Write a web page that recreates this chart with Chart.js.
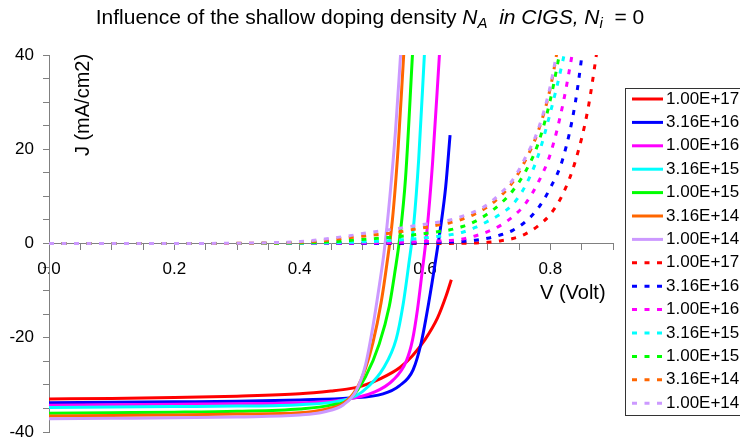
<!DOCTYPE html>
<html>
<head>
<meta charset="utf-8">
<script src="https://cdn.jsdelivr.net/npm/chart.js@4.4.0/dist/chart.umd.min.js"></script>
<style>
  html, body { margin: 0; padding: 0; background: #fff; }
</style>
</head>
<body>
<canvas id="myChart" width="740" height="439"></canvas>
<script>
var seriesNames = ["1.00E+17", "3.16E+16", "1.00E+16", "3.16E+15", "1.00E+15", "3.16E+14", "1.00E+14"];
var seriesColors = ['#FF0000', '#0000FF', '#FF00FF', '#00FFFF', '#00FF00', '#FF6600', '#CC99FF'];

// illuminated J-V curves (solid), V in volt, J in mA/cm2
var vLight17 = [0, 0.1, 0.2, 0.3, 0.4, 0.45, 0.48, 0.5, 0.53, 0.56, 0.58, 0.6, 0.62, 0.634, 0.642];
var jLight17 = [-33.0, -32.9, -32.7, -32.4, -31.9, -31.3, -30.8, -30.2, -28.6, -26.3, -23.8, -20.4, -15.8, -11.0, -7.7];
var vLight316e16 = [0, 0.1, 0.2, 0.3, 0.4, 0.48, 0.533, 0.559, 0.581, 0.594, 0.606, 0.617, 0.626, 0.633, 0.640];
var jLight316e16 = [-33.8, -33.7, -33.6, -33.5, -33.2, -32.8, -31.9, -30.2, -26.8, -21.0, -12.5, -3.5, 4.5, 12, 23];
var vLight16 = [0, 0.1, 0.2, 0.3, 0.4, 0.47, 0.52, 0.549, 0.570, 0.580, 0.588, 0.595, 0.603, 0.612, 0.623];
var jLight16 = [-34.3, -34.2, -34.1, -34.0, -33.8, -33.2, -31.5, -29.0, -25.0, -20.5, -14.0, -6.5, 2.5, 17, 40];
var vLight316e15 = [0, 0.1, 0.2, 0.3, 0.4, 0.46, 0.49, 0.51, 0.533, 0.554, 0.565, 0.574, 0.582, 0.590, 0.599];
var jLight316e15 = [-34.8, -34.7, -34.6, -34.5, -34.2, -33.5, -32.3, -30.3, -26.6, -20.3, -13.0, -4.5, 4, 18, 40];
var vLight15 = [0, 0.1, 0.2, 0.3, 0.4, 0.45, 0.48, 0.505, 0.527, 0.543, 0.552, 0.560, 0.569, 0.580];
var jLight15 = [-36.0, -35.9, -35.8, -35.6, -35.1, -34.3, -33.0, -28.3, -21.3, -13.3, -6.0, 1.5, 14, 40];
var vLight316e14 = [0, 0.1, 0.2, 0.3, 0.4, 0.44, 0.47, 0.49, 0.505, 0.517, 0.530, 0.539, 0.548, 0.557, 0.566];
var jLight316e14 = [-36.6, -36.5, -36.4, -36.2, -35.9, -35.2, -33.9, -31.0, -26.5, -21.0, -12.5, -4.5, 5, 20, 40];
var vLight14 = [0, 0.1, 0.2, 0.3, 0.4, 0.44, 0.47, 0.49, 0.505, 0.517, 0.527, 0.535, 0.544, 0.553, 0.561];
var jLight14 = [-37.2, -37.1, -37.0, -36.8, -36.4, -35.7, -34.2, -31.3, -25.8, -17.5, -9.0, -1.5, 10, 24, 40];

// dark J-V curves (dashed), shared voltage grid
var vDark = [0, 0.1, 0.2, 0.3, 0.32, 0.34, 0.36, 0.38, 0.40, 0.42, 0.44, 0.46, 0.48, 0.50, 0.52, 0.54, 0.56,
             0.58, 0.60, 0.62, 0.64, 0.66, 0.68, 0.70, 0.72, 0.74, 0.76, 0.78, 0.80, 0.82, 0.84, 0.86, 0.88];
var jDark17 = [0, 0, 0, 0, 0, 0, 0, 0, 0, 0, 0, 0, 0, 0, 0, 0, 0, 0, 0, 0,
               0.02, 0.06, 0.12, 0.25, 0.55, 1.05, 2.0, 3.7, 6.2, 10.5, 17.5, 28.5, 46];
var jDark316e16 = [0, 0, 0, 0, 0, 0, 0, 0, 0, 0, 0, 0, 0, 0.01, 0.02, 0.03, 0.05, 0.08, 0.12, 0.2,
                   0.3, 0.45, 0.7, 1.1, 1.8, 2.8, 4.6, 7.4, 11.8, 18.0, 30.0, 50];
var jDark16 = [0, 0, 0, 0, 0, 0, 0.01, 0.01, 0.02, 0.03, 0.04, 0.05, 0.07, 0.1, 0.13, 0.18, 0.24, 0.32, 0.42, 0.52,
               0.64, 0.95, 1.6, 2.5, 3.8, 5.7, 8.4, 12.8, 19.0, 29.5, 44];
var jDark316e15 = [0, 0, 0, 0, 0.01, 0.01, 0.02, 0.03, 0.05, 0.08, 0.12, 0.18, 0.25, 0.35, 0.45, 0.57, 0.75, 0.95, 1.2, 1.5,
                   1.85, 2.4, 3.4, 4.7, 6.2, 8.3, 12.2, 18.4, 27.8, 38.8, 52];
var jDark15 = [0, 0, 0, 0.01, 0.02, 0.03, 0.05, 0.08, 0.12, 0.2, 0.3, 0.45, 0.65, 0.85, 1.05, 1.25, 1.5, 1.8, 2.1, 2.5,
               2.9, 3.6, 4.7, 6.3, 8.4, 11.2, 15.2, 21.0, 30.5, 44];
var jDark316e14 = [0, 0, 0.01, 0.03, 0.05, 0.08, 0.12, 0.18, 0.27, 0.42, 0.65, 0.95, 1.25, 1.55, 1.85, 2.1, 2.5, 2.95, 3.4, 3.9,
                   4.4, 5.2, 6.3, 7.8, 10.0, 13.0, 17.6, 23.6, 33.0, 48];
var jDark14 = [0, 0, 0.01, 0.05, 0.08, 0.13, 0.2, 0.28, 0.42, 0.62, 0.95, 1.3, 1.65, 2.1, 2.5, 2.85, 3.25, 3.7, 4.1, 4.5,
               5.0, 5.8, 6.8, 8.3, 10.6, 13.5, 18.2, 24.0, 33.5, 48];

var lightV = [vLight17, vLight316e16, vLight16, vLight316e15, vLight15, vLight316e14, vLight14];
var lightJ = [jLight17, jLight316e16, jLight16, jLight316e15, jLight15, jLight316e14, jLight14];
var darkJ = [jDark17, jDark316e16, jDark16, jDark316e15, jDark15, jDark316e14, jDark14];

function toPoints(xs, ys) {
    return ys.map(function (y, i) { return {x: xs[i], y: y}; });
}

var datasets = [];
for (var i = 0; i < 7; i++) {
    datasets.push({
        label: seriesNames[i],
        data: toPoints(lightV[i], lightJ[i]),
        borderColor: seriesColors[i],
        borderWidth: 3,
        borderDash: []
    });
}
for (var i = 0; i < 7; i++) {
    datasets.push({
        label: seriesNames[i],
        data: toPoints(vDark, darkJ[i]),
        borderColor: seriesColors[i],
        borderWidth: 3,
        borderDash: [5, 7.5]
    });
}
// later series on top, like the spreadsheet
datasets.forEach(function (d, i) { d.order = datasets.length - i; });

var FONT = '"Liberation Sans", Arial, sans-serif';

var textPlugin = {
    id: 'texts',
    afterDraw: function (chart) {
        var ctx = chart.ctx;
        ctx.save();
        ctx.fillStyle = '#000';
        ctx.textBaseline = 'alphabetic';

        // title with italics and subscripts
        var size = 21;
        var parts = [
            {t: 'Influence of the shallow doping density ', it: false, sub: false},
            {t: 'N', it: true, sub: false},
            {t: 'A', it: true, sub: true},
            {t: '  in CIGS, ', it: true, sub: false},
            {t: 'N', it: true, sub: false},
            {t: 'i', it: true, sub: true},
            {t: '  = 0', it: false, sub: false}
        ];
        function partFont(p) {
            return (p.it ? 'italic ' : '') + (p.sub ? Math.round(size * 0.72) : size) + 'px ' + FONT;
        }
        var total = 0;
        parts.forEach(function (p) { ctx.font = partFont(p); p.w = ctx.measureText(p.t).width; total += p.w; });
        var x = 370 - total / 2;
        parts.forEach(function (p) {
            ctx.font = partFont(p);
            ctx.fillText(p.t, x, 24 + (p.sub ? 4 : 0));
            x += p.w;
        });

        // axis titles inside the plot
        ctx.font = '20px ' + FONT;
        ctx.save();
        ctx.translate(89, 105);
        ctx.rotate(-Math.PI / 2);
        ctx.textAlign = 'center';
        ctx.textBaseline = 'alphabetic';
        ctx.fillText('J (mA/cm2)', 0, 0);
        ctx.restore();
        ctx.textAlign = 'left';
        ctx.textBaseline = 'middle';
        ctx.fillText('V (Volt)', 540, 293);

        // legend box
        ctx.strokeStyle = '#333';
        ctx.lineWidth = 1;
        ctx.strokeRect(625.5, 88.5, 130, 327);
        ctx.font = '17px ' + FONT;
        ctx.textBaseline = 'middle';
        chart.data.datasets.forEach(function (d, i) {
            var y = 99 + i * 23.4;
            ctx.strokeStyle = d.borderColor;
            ctx.lineWidth = 3;
            ctx.setLineDash(d.borderDash);
            ctx.beginPath();
            ctx.moveTo(632, y);
            ctx.lineTo(663, y);
            ctx.stroke();
            ctx.setLineDash([]);
            ctx.fillStyle = '#000';
            ctx.fillText(d.label, 666, y);
        });
        ctx.restore();
    }
};

function isMultiple(v, step) {
    return Math.abs(v / step - Math.round(v / step)) < 1e-6;
}

var ctx = document.getElementById('myChart');
var myChart = new Chart(ctx, {
    type: 'line',
    data: {datasets: datasets},
    options: {
        responsive: false,
        animation: false,
        events: [],
        layout: {padding: {top: 55, bottom: 7, left: 0, right: 127}},
        elements: {
            point: {radius: 0},
            line: {cubicInterpolationMode: 'monotone', fill: false}
        },
        plugins: {
            legend: {display: false},
            tooltip: {enabled: false},
            title: {display: false}
        },
        scales: {
            x: {
                type: 'linear',
                min: 0,
                max: 0.9,
                position: {y: 0},
                border: {display: true, color: '#808080', width: 1},
                grid: {display: true, drawOnChartArea: false, drawTicks: true, tickLength: 6, color: '#808080'},
                ticks: {
                    stepSize: 0.05,
                    autoSkip: false,
                    maxRotation: 0,
                    padding: 10,
                    color: '#000',
                    font: {family: FONT, size: 17},
                    callback: function (v) { return isMultiple(v, 0.2) ? v.toFixed(1) : ''; }
                },
                afterFit: function (scale) { scale.paddingLeft = 0; scale.paddingRight = 0; }
            },
            y: {
                type: 'linear',
                min: -40,
                max: 40,
                position: 'left',
                border: {display: true, color: '#808080', width: 1},
                grid: {display: true, drawOnChartArea: false, drawTicks: true, tickLength: 6, color: '#808080'},
                ticks: {
                    stepSize: 5,
                    autoSkip: false,
                    padding: 9,
                    color: '#000',
                    font: {family: FONT, size: 17},
                    callback: function (v) { return isMultiple(v, 20) ? String(v) : ''; }
                },
                afterFit: function (scale) {
                    scale.width = 49;
                    scale.paddingTop = 0;
                    scale.paddingBottom = 0;
                }
            }
        }
    },
    plugins: [textPlugin]
});
</script>
</body>
</html>
